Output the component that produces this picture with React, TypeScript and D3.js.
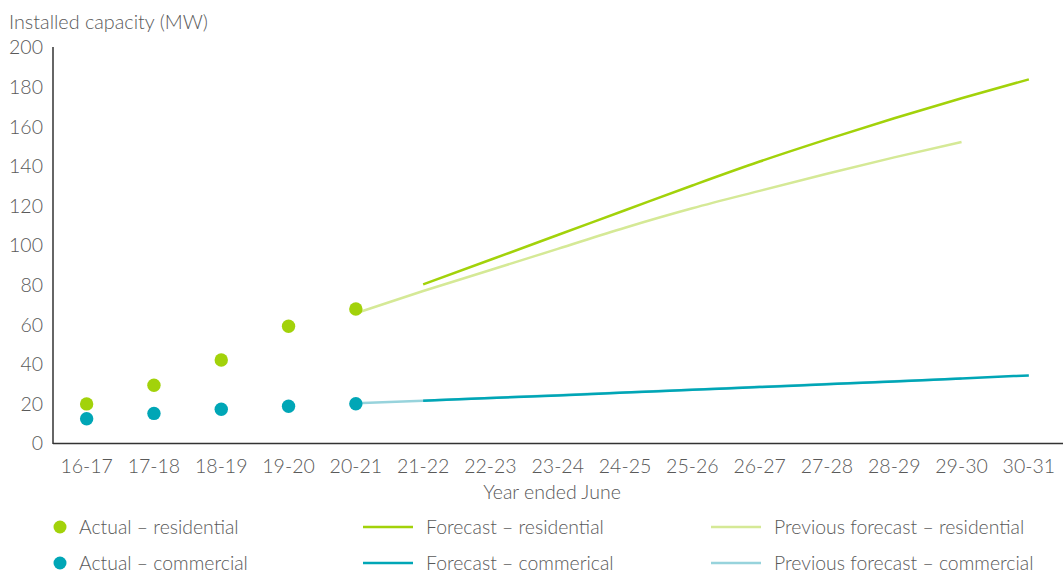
import React from "react";
import * as d3 from "d3";

const categories = ["16-17","17-18","18-19","19-20","20-21","21-22","22-23","23-24","24-25","25-26","26-27","27-28","28-29","29-30","30-31"];
const yTicks = [0,20,40,60,80,100,120,140,160,180,200];

const actualResidential = [20.0, 29.4, 42.2, 59.2, 67.9];
const actualCommercial = [12.5, 15.2, 17.3, 18.8, 20.1];

// start at 21-22
const forecastResidential = [80.4, 92.8, 105.3, 117.8, 130.3, 142.4, 153.6, 164.3, 174.4, 183.9];
const forecastCommercial = [21.6, 23.0, 24.3, 25.7, 27.1, 28.5, 29.9, 31.3, 32.8, 34.4];
// start at 20-21
const prevResidential = [65.8, 77.0, 87.6, 98.3, 109.0, 118.8, 127.6, 136.2, 144.5, 152.3];
const prevCommercial = [20.3, 21.6, 23.0, 24.4, 25.8, 27.2, 28.6, 30.0, 31.4, 32.8];

const C_RES = "#a2d20a";
const C_RES_PREV = "#d5e996";
const C_COM = "#00a6b6";
const C_COM_PREV = "#97d3dc";
const TXT = "#595959";
const FONT = "Lato, 'Open Sans', sans-serif";

export default function App() {
  const W = 1063, H = 573;
  const x = d3.scalePoint<string>().domain(categories).range([53, 1062.5]).padding(0.5);
  const y = d3.scaleLinear().domain([0, 200]).range([443.5, 47.5]);

  const line = d3.line<[string, number]>()
    .x(d => x(d[0]) as number)
    .y(d => y(d[1]))
    .curve(d3.curveMonotoneX);

  const fromIdx = (arr: number[], start: number): [string, number][] =>
    arr.map((v, i) => [categories[start + i], v]);

  const legendRows = [
    [
      { kind: "dot", color: C_RES, label: "Actual \u2013 residential", x: 60 },
      { kind: "line", color: C_RES, label: "Forecast \u2013 residential", x: 363 },
      { kind: "line", color: C_RES_PREV, label: "Previous forecast \u2013 residential", x: 711 },
    ],
    [
      { kind: "dot", color: C_COM, label: "Actual \u2013 commercial", x: 60 },
      { kind: "line", color: C_COM, label: "Forecast \u2013 commerical", x: 363 },
      { kind: "line", color: C_COM_PREV, label: "Previous forecast \u2013 commercial", x: 711 },
    ],
  ];
  const legendY = [527, 563];

  return (
    <svg width={W} height={H} style={{ position: "absolute", left: 0, top: 0, background: "#fff" }} fontFamily={FONT}>
      <text x={9} y={29} fontSize={19.8} fill={TXT} fontWeight={300}>Installed capacity (MW)</text>
      {yTicks.map(t => (
        <text key={t} x={43} y={y(t)} dy="0.35em" textAnchor="end" fontSize={19.5} fill={TXT} fontWeight={300}>{t}</text>
      ))}
      {categories.map(c => (
        <text key={c} x={x(c) as number} y={466} dy="0.35em" textAnchor="middle" fontSize={19.5} fill={TXT} fontWeight={300}>{c}</text>
      ))}
      <text x={552} y={492} dy="0.35em" textAnchor="middle" fontSize={19.5} fill={TXT} fontWeight={300}>Year ended June</text>

      <line x1={53} x2={53} y1={47} y2={444} stroke="#333" strokeWidth={1.5} />
      <line x1={53} x2={1063} y1={443.5} y2={443.5} stroke="#333" strokeWidth={1.5} />

      <path d={line(fromIdx(prevCommercial, 4)) || ""} fill="none" stroke={C_COM_PREV} strokeWidth={2.5} />
      <path d={line(fromIdx(prevResidential, 4)) || ""} fill="none" stroke={C_RES_PREV} strokeWidth={2.5} />
      <path d={line(fromIdx(forecastCommercial, 5)) || ""} fill="none" stroke={C_COM} strokeWidth={2.5} />
      <path d={line(fromIdx(forecastResidential, 5)) || ""} fill="none" stroke={C_RES} strokeWidth={2.5} />

      {actualResidential.map((v, i) => (
        <circle key={"r" + i} cx={x(categories[i]) as number} cy={y(v)} r={6.7} fill={C_RES} />
      ))}
      {actualCommercial.map((v, i) => (
        <circle key={"c" + i} cx={x(categories[i]) as number} cy={y(v)} r={6.7} fill={C_COM} />
      ))}

      {legendRows.map((row, ri) => (
        <g key={ri}>
          {row.map((it, ii) => (
            <g key={ii}>
              {it.kind === "dot" ? (
                <circle cx={it.x} cy={legendY[ri]} r={6.5} fill={it.color} />
              ) : (
                <line x1={it.x} x2={it.x + 50} y1={legendY[ri]} y2={legendY[ri]} stroke={it.color} strokeWidth={2.5} />
              )}
              <text x={it.kind === "dot" ? 79 : it.x + 63} y={legendY[ri]} dy="0.35em" fontSize={19.4} fill={TXT} fontWeight={300}>{it.label}</text>
            </g>
          ))}
        </g>
      ))}
    </svg>
  );
}
